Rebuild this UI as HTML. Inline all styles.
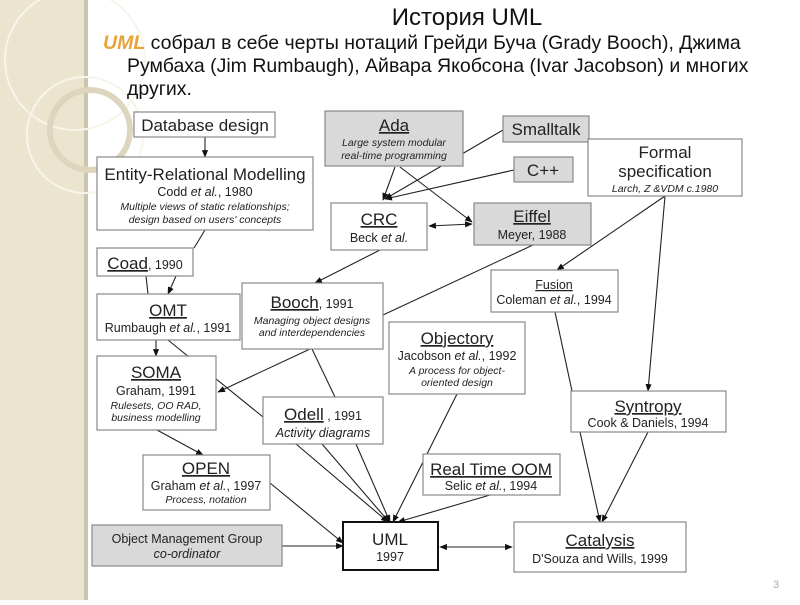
<!DOCTYPE html>
<html><head><meta charset="utf-8"><style>
html,body{margin:0;padding:0;background:#fff;}
body{width:800px;height:600px;overflow:hidden;position:relative;font-family:"Liberation Sans",sans-serif;}
</style></head><body>
<svg width="800" height="600" viewBox="0 0 800 600" xmlns="http://www.w3.org/2000/svg" font-family="Liberation Sans, sans-serif">
<defs>
<marker id="a" viewBox="0 0 10 10" refX="9" refY="5" markerWidth="7" markerHeight="7" orient="auto-start-reverse"><path d="M0,1 L10,5 L0,9 z" fill="#111"/></marker>
</defs>
<rect x="0" y="0" width="800" height="600" fill="#fff"/>
<rect x="0" y="0" width="86" height="600" fill="#ebe4cf"/>
<rect x="84" y="0" width="4" height="600" fill="#cdc4ad"/>
<circle cx="75" cy="60" r="70" fill="none" stroke="#f8f4ea" stroke-width="2"/>
<circle cx="85" cy="135" r="58" fill="none" stroke="#f8f4ea" stroke-width="2"/>
<circle cx="90" cy="130" r="40" fill="none" stroke="#ddd5be" stroke-width="6"/>

<text x="467" y="25" font-size="24" text-anchor="middle" fill="#111">История UML</text>
<g font-size="19.5" fill="#111">
<text x="103" y="49"><tspan fill="#e8a33a" font-style="italic" font-weight="bold">UML</tspan> собрал в себе черты нотаций Грейди Буча (Grady Booch), Джима</text>
<text x="127" y="72">Румбаха (Jim Rumbaugh), Айвара Якобсона (Ivar Jacobson) и многих</text>
<text x="127" y="95">других.</text>
</g>

<g stroke="#222" stroke-width="1.1" fill="none">
<line x1="205" y1="137" x2="205" y2="157" marker-end="url(#a)"/>
<line x1="205" y1="230" x2="194" y2="248"/>
<line x1="176" y1="276" x2="168" y2="294" marker-end="url(#a)"/>
<line x1="146" y1="276" x2="148" y2="294"/>
<line x1="156" y1="340" x2="156" y2="356" marker-end="url(#a)"/>
<line x1="168" y1="340" x2="263" y2="417"/>
<line x1="310" y1="349" x2="218" y2="392" marker-end="url(#a)"/>
<line x1="312" y1="349" x2="335" y2="397"/>
<line x1="157" y1="430" x2="203" y2="455" marker-end="url(#a)"/>
<line x1="270" y1="483" x2="343" y2="543" marker-end="url(#a)"/>
<line x1="282" y1="546" x2="343" y2="546" marker-end="url(#a)"/>
<line x1="296" y1="444" x2="388" y2="522" marker-end="url(#a)"/>
<line x1="322" y1="444" x2="389" y2="522" marker-end="url(#a)"/>
<line x1="356" y1="444" x2="390" y2="522" marker-end="url(#a)"/>
<line x1="457" y1="394" x2="393" y2="522" marker-end="url(#a)"/>
<line x1="490" y1="495" x2="398" y2="522" marker-end="url(#a)"/>
<line x1="440" y1="547" x2="512" y2="547" marker-start="url(#a)" marker-end="url(#a)"/>
<line x1="580" y1="432" x2="600" y2="522" marker-end="url(#a)"/>
<line x1="648" y1="432" x2="602" y2="522" marker-end="url(#a)"/>
<line x1="555" y1="312" x2="572" y2="391"/>
<line x1="665" y1="196" x2="648" y2="391" marker-end="url(#a)"/>
<line x1="665" y1="196" x2="557" y2="270" marker-end="url(#a)"/>
<line x1="533" y1="245" x2="383" y2="315"/>
<line x1="380" y1="250" x2="315" y2="283" marker-end="url(#a)"/>
<line x1="429" y1="226" x2="472" y2="224" marker-start="url(#a)" marker-end="url(#a)"/>
<line x1="395" y1="167" x2="383" y2="200" marker-end="url(#a)"/>
<line x1="400" y1="167" x2="472" y2="222" marker-end="url(#a)"/>
<line x1="503" y1="130" x2="385" y2="199" marker-end="url(#a)"/>
<line x1="514" y1="170" x2="385" y2="199" marker-end="url(#a)"/>
</g>

<g stroke="#888" stroke-width="1.2">
<rect x="134" y="112" width="141" height="25" fill="#fff"/>
<rect x="97" y="157" width="216" height="73" fill="#fff"/>
<rect x="97" y="248" width="96" height="28" fill="#fff"/>
<rect x="97" y="294" width="143" height="46" fill="#fff"/>
<rect x="97" y="356" width="119" height="74" fill="#fff"/>
<rect x="143" y="455" width="127" height="55" fill="#fff"/>
<rect x="92" y="525" width="190" height="41" fill="#d9d9d9"/>
<rect x="325" y="111" width="138" height="55" fill="#d9d9d9"/>
<rect x="503" y="116" width="86" height="26" fill="#d9d9d9"/>
<rect x="514" y="157" width="59" height="25" fill="#d9d9d9"/>
<rect x="588" y="139" width="154" height="57" fill="#fff"/>
<rect x="331" y="203" width="96" height="47" fill="#fff"/>
<rect x="474" y="203" width="117" height="42" fill="#d9d9d9"/>
<rect x="491" y="270" width="127" height="42" fill="#fff"/>
<rect x="242" y="283" width="141" height="66" fill="#fff"/>
<rect x="389" y="322" width="136" height="72" fill="#fff"/>
<rect x="263" y="397" width="120" height="47" fill="#fff"/>
<rect x="571" y="391" width="155" height="41" fill="#fff"/>
<rect x="423" y="454" width="137" height="41" fill="#fff"/>
<rect x="514" y="522" width="172" height="50" fill="#fff"/>
<rect x="343" y="522" width="95" height="48" fill="#fff" stroke="#111" stroke-width="2"/>
</g>

<g fill="#222" text-anchor="middle">
<text x="205" y="131" font-size="17">Database design</text>
<text x="205" y="180" font-size="17">Entity-Relational Modelling</text>
<text x="205" y="196" font-size="12.5">Codd <tspan font-style="italic">et al.</tspan>, 1980</text>
<text x="205" y="210" font-size="10.5" font-style="italic">Multiple views of static relationships;</text>
<text x="205" y="223" font-size="10.5" font-style="italic">design based on users' concepts</text>
<text x="145" y="269" font-size="17"><tspan text-decoration="underline">Coad</tspan><tspan font-size="12.5">, 1990</tspan></text>
<text x="168" y="316" font-size="17" text-decoration="underline">OMT</text>
<text x="168" y="332" font-size="12.5">Rumbaugh <tspan font-style="italic">et al.</tspan>, 1991</text>
<text x="156" y="378" font-size="17" text-decoration="underline">SOMA</text>
<text x="156" y="395" font-size="12.5">Graham, 1991</text>
<text x="156" y="409" font-size="10.5" font-style="italic">Rulesets, OO RAD,</text>
<text x="156" y="421" font-size="10.5" font-style="italic">business modelling</text>
<text x="206" y="474" font-size="17" text-decoration="underline">OPEN</text>
<text x="206" y="490" font-size="12.5">Graham <tspan font-style="italic">et al.</tspan>, 1997</text>
<text x="206" y="503" font-size="10.5" font-style="italic">Process, notation</text>
<text x="187" y="543" font-size="12.5">Object Management Group</text>
<text x="187" y="558" font-size="12.5" font-style="italic">co-ordinator</text>
<text x="390" y="545" font-size="17">UML</text>
<text x="390" y="561" font-size="12.5">1997</text>
<text x="394" y="131" font-size="17" text-decoration="underline">Ada</text>
<text x="394" y="146" font-size="10.5" font-style="italic">Large system modular</text>
<text x="394" y="159" font-size="10.5" font-style="italic">real-time  programming</text>
<text x="546" y="135" font-size="17">Smalltalk</text>
<text x="543" y="176" font-size="17">C++</text>
<text x="665" y="158" font-size="17">Formal</text>
<text x="665" y="177" font-size="17">specification</text>
<text x="665" y="192" font-size="10.5" font-style="italic">Larch, Z &amp;VDM c.1980</text>
<text x="379" y="225" font-size="17" text-decoration="underline">CRC</text>
<text x="379" y="242" font-size="12.5">Beck <tspan font-style="italic">et al.</tspan></text>
<text x="532" y="222" font-size="17" text-decoration="underline">Eiffel</text>
<text x="532" y="239" font-size="12.5">Meyer, 1988</text>
<text x="554" y="289" font-size="12.5" text-decoration="underline">Fusion</text>
<text x="554" y="304" font-size="12.5">Coleman <tspan font-style="italic">et al.</tspan>, 1994</text>
<text x="312" y="308" font-size="17"><tspan text-decoration="underline">Booch</tspan><tspan font-size="12.5">, 1991</tspan></text>
<text x="312" y="324" font-size="10.5" font-style="italic">Managing object designs</text>
<text x="312" y="336" font-size="10.5" font-style="italic">and interdependencies</text>
<text x="457" y="344" font-size="17" text-decoration="underline">Objectory</text>
<text x="457" y="360" font-size="12.5">Jacobson <tspan font-style="italic">et al.</tspan>, 1992</text>
<text x="457" y="374" font-size="10.5" font-style="italic">A process for object-</text>
<text x="457" y="386" font-size="10.5" font-style="italic">oriented design</text>
<text x="323" y="420" font-size="17"><tspan text-decoration="underline">Odell</tspan><tspan font-size="12.5"> , 1991</tspan></text>
<text x="323" y="437" font-size="12.5" font-style="italic">Activity diagrams</text>
<text x="648" y="412" font-size="17" text-decoration="underline">Syntropy</text>
<text x="648" y="427" font-size="12.5">Cook &amp; Daniels, 1994</text>
<text x="491" y="475" font-size="17" text-decoration="underline">Real Time OOM</text>
<text x="491" y="490" font-size="12.5">Selic <tspan font-style="italic">et al.</tspan>, 1994</text>
<text x="600" y="546" font-size="17" text-decoration="underline">Catalysis</text>
<text x="600" y="563" font-size="12.5">D'Souza and Wills, 1999</text>
</g>
<text x="773" y="588" font-size="11" fill="#aaa">3</text>
</svg>
</body></html>
